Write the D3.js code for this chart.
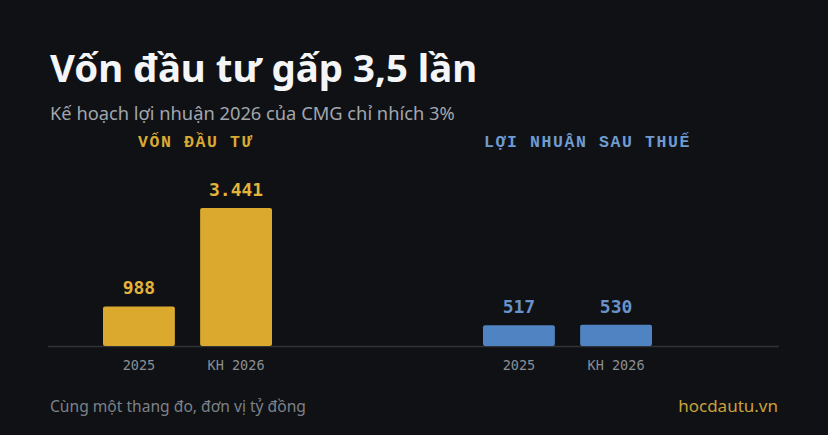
<!DOCTYPE html>
<html>
<head>
<meta charset="utf-8">
<script src="https://cdn.jsdelivr.net/npm/d3@7"></script>
<style>
  html, body { margin: 0; padding: 0; background: #0f1115; }
  svg { display: block; }
</style>
</head>
<body>
<div id="chart"></div>
<script>
// Data
var categories = ["2025", "KH 2026"];
var vonDauTu = [988, 3441];
var loiNhuan = [517, 530];
var valueLabels = {
  von: ["988", "3.441"],
  loi: ["517", "530"]
};
var panelTitles = ["VỐN ĐẦU TƯ", "LỢI NHUẬN SAU THUẾ"];

var width = 828, height = 435;
var baseY = 346;

var svg = d3.select("#chart")
  .append("svg")
  .attr("width", width)
  .attr("height", height);

svg.append("rect")
  .attr("width", width)
  .attr("height", height)
  .attr("fill", "#0f1115");

// Title + subtitle
svg.append("text")
  .attr("x", 50)
  .attr("y", 82)
  .style("font-family", "'Noto Sans', 'Open Sans', sans-serif")
  .style("font-size", "38.4px")
  .style("font-weight", "700")
  .style("fill", "#f4f5f6")
  .text("Vốn đầu tư gấp 3,5 lần");

svg.append("text")
  .attr("x", 50)
  .attr("y", 120)
  .style("font-family", "'Noto Sans', 'Open Sans', sans-serif")
  .style("font-size", "18.3px")
  .style("fill", "#a2a6ac")
  .text("Kế hoạch lợi nhuận 2026 của CMG chỉ nhích 3%");

// Shared scale: same scale for both panels
var y = d3.scaleLinear()
  .domain([0, 3441])
  .range([baseY, 208]);

var panels = [
  { values: vonDauTu, labels: valueLabels.von, title: panelTitles[0],
    range: [103, 272], titleX: 138, color: "#dba92e", labelColor: "#e3b43a", titleColor: "#d9aa33" },
  { values: loiNhuan, labels: valueLabels.loi, title: panelTitles[1],
    range: [483, 652], titleX: 484, color: "#5083c1", labelColor: "#6a93c9", titleColor: "#6f9bd0" }
];

// Baseline
svg.append("line")
  .attr("x1", 48)
  .attr("x2", 779)
  .attr("y1", baseY + 0.5)
  .attr("y2", baseY + 0.5)
  .style("stroke", "#2f3237")
  .style("stroke-width", 1.5);

var mono = "'DejaVu Sans Mono', 'Liberation Mono', monospace";
var monoVi = "'Liberation Mono', 'DejaVu Sans Mono', monospace";

panels.forEach(function (p) {
  var x = d3.scaleBand()
    .domain(categories)
    .range(p.range)
    .paddingInner(0.26)
    .paddingOuter(0);

  var g = svg.append("g");

  g.append("text")
    .attr("x", p.titleX)
    .attr("y", 147)
    .style("font-family", monoVi)
    .style("font-size", "16.5px")
    .style("font-weight", "700")
    .style("letter-spacing", "1.6px")
    .style("fill", p.titleColor)
    .text(p.title);

  var data = categories.map(function (c, i) {
    return { cat: c, value: p.values[i], label: p.labels[i] };
  });

  g.selectAll(".bar")
    .data(data)
    .enter()
    .append("rect")
    .attr("class", "bar")
    .attr("x", function (d) { return x(d.cat); })
    .attr("y", function (d) { return y(d.value); })
    .attr("width", x.bandwidth())
    .attr("height", function (d) { return baseY - y(d.value); })
    .attr("rx", 2)
    .style("fill", p.color);

  g.selectAll(".val")
    .data(data)
    .enter()
    .append("text")
    .attr("class", "val")
    .attr("x", function (d) { return x(d.cat) + x.bandwidth() / 2; })
    .attr("y", function (d) { return y(d.value) - 12; })
    .attr("text-anchor", "middle")
    .style("font-family", mono)
    .style("font-size", "18px")
    .style("font-weight", "700")
    .style("fill", p.labelColor)
    .text(function (d) { return d.label; });

  g.selectAll(".cat")
    .data(data)
    .enter()
    .append("text")
    .attr("class", "cat")
    .attr("x", function (d) { return x(d.cat) + x.bandwidth() / 2; })
    .attr("y", 370)
    .attr("text-anchor", "middle")
    .style("font-family", mono)
    .style("font-size", "13.5px")
    .style("fill", "#8a8f96")
    .text(function (d) { return d.cat; });
});

// Footer
svg.append("text")
  .attr("x", 50)
  .attr("y", 412)
  .style("font-family", "'Noto Sans', 'Open Sans', sans-serif")
  .style("font-size", "15.6px")
  .style("fill", "#7d8188")
  .text("Cùng một thang đo, đơn vị tỷ đồng");

svg.append("text")
  .attr("x", 778)
  .attr("y", 412)
  .attr("text-anchor", "end")
  .style("font-family", "'Noto Sans', 'Open Sans', sans-serif")
  .style("font-size", "17px")
  .style("fill", "#c9a23c")
  .text("hocdautu.vn");
</script>
</body>
</html>
